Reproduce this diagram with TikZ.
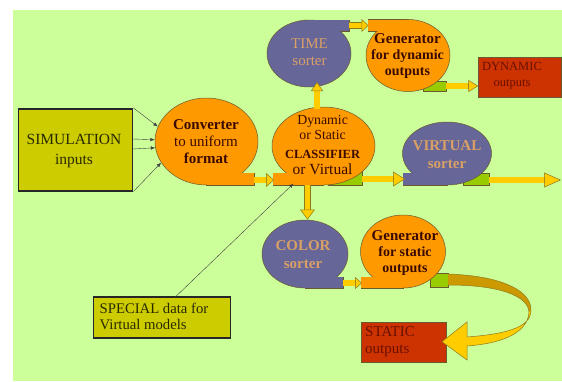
\documentclass[tikz,border=0pt]{standalone}
\usepackage{fontspec}
\setmainfont{Liberation Serif}
\usetikzlibrary{shapes.geometric,arrows.meta,calc}
\definecolor{bg}{HTML}{CCFF99}
\definecolor{org}{HTML}{FF9900}
\definecolor{pur}{HTML}{666699}
\definecolor{olv}{HTML}{CCCC00}
\definecolor{rd}{HTML}{CC3300}
\definecolor{ayel}{HTML}{FFCC00}
\definecolor{aline}{HTML}{8C7A1E}
\definecolor{gtab}{HTML}{99CC00}
\definecolor{gold}{HTML}{CC9900}
\definecolor{dtxt}{HTML}{3A0A00}
\definecolor{ttxt}{HTML}{D9A066}
\definecolor{rtxt}{HTML}{6B1000}
\definecolor{otl}{HTML}{6A5A30}
\newcommand\setfs[2]{\fontsize{#1}{#2}\selectfont}
\newcommand\blob[8]{%
  \draw[line width=1pt, draw=#8, fill=#5] #6 rectangle #7;
  \node[ellipse, draw=#8, line width=0.5pt, fill=#5, minimum width=#3, minimum height=#4, inner sep=0pt] (#1) at #2 {};
  \fill[#5] #6 rectangle #7;
}
\tikzset{
  barrow/.style 2 args={line width=5.5pt, draw=ayel,
    -{Triangle[length=#1, width=#2, fill=ayel, color=aline, line width=0.5pt]},
    preaction={draw=aline, line width=6.5pt, -, shorten >=#1-1.5pt}},
  thinarrow/.style={draw=black!75, line width=0.4pt, -{Latex[length=4.5pt,width=3.5pt]}},
  txt/.style={align=center, inner sep=0pt, text=dtxt, font=\setfs{15}{17}},
  sortxt/.style={align=center, inner sep=0pt, text=ttxt, font=\setfs{15}{17.5}},
  tab/.style={fill=gtab, draw=otl, line width=0.5pt},
  box/.style={draw=black!85, line width=1.6pt, fill=olv, inner sep=0pt},
  outbox/.style={draw=otl, line width=0.5pt, fill=rd, inner sep=0pt}
}
\begin{document}
\begin{tikzpicture}[x=1pt,y=-1pt]
\useasboundingbox (0,0) rectangle (562,381);
\fill[white] (0,0) rectangle (562,381);
\fill[bg] (13,10) rectangle (562,381);

% green tabs (behind shapes)
\draw[tab] (328,172) rectangle (362,185);
\draw[tab] (423,81) rectangle (446,91.5);
\draw[tab] (463,173) rectangle (489,185);
\draw[tab] (430,273) rectangle (448,287);

% shapes
\blob{conv}{(206.5,141.5)}{103pt}{87pt}{org}{(206.5,173)}{(254,185)}{otl}
\blob{class}{(323.5,146)}{103pt}{78pt}{org}{(273,173)}{(323.5,185)}{otl}
\blob{time}{(309,53.5)}{84pt}{67pt}{pur}{(309,20)}{(349,31)}{otl}
\blob{gdyn}{(408,55.5)}{84pt}{72pt}{org}{(368,19.5)}{(408,31)}{otl}
\blob{virt}{(447,153.5)}{89pt}{63pt}{pur}{(403,173)}{(447,185)}{otl}
\blob{color}{(305,254)}{86pt}{68pt}{pur}{(305,277)}{(343,288)}{otl}
\blob{gstat}{(403,251.5)}{85pt}{73pt}{org}{(361,277)}{(403,288)}{otl}

% boxes
\node[box, minimum width=114pt, minimum height=82pt] (sim) at (75.6,149.7) {};
\node[box, minimum width=137pt, minimum height=41pt] (special) at (162,317.5) {};
\node[outbox, minimum width=83pt, minimum height=40pt] (dyn) at (520,77) {};
\node[outbox, minimum width=85pt, minimum height=40pt] (static) at (403.5,342) {};

% texts
\node[txt, text=black!80!olv, font=\setfs{15.5}{20}] (simt) at (74,151) {SIMULATION\\inputs};
\node[txt, text=black!80!olv, align=left, anchor=west, font=\setfs{14.7}{16}] (spect) at (99.5,316.5) {SPECIAL data for\\Virtual models};
\node[txt] (convt) at (206,141.5) {\textbf{Converter}\\to uniform\\\textbf{format}};
\node[txt, font=\setfs{13.8}{15}] (classt) at (322.6,145) {Dynamic\\or Static\\[4.5pt]{\setfs{12.5}{13}\bfseries CLASSIFIER}\\[1pt]{\setfs{15.5}{16}or Virtual}};
\node[sortxt] (timet) at (309.5,52) {TIME\\sorter};
\node[sortxt, font=\setfs{15}{17.5}\bfseries] (virtt) at (447,154.5) {VIRTUAL\\sorter};
\node[sortxt, font=\setfs{15}{17.5}\bfseries] (colort) at (303,254.7) {COLOR\\sorter};
\node[txt, font=\setfs{14}{16}\bfseries] (gdynt) at (407.5,56) {{\setfs{15}{16}Generator}\\for dynamic\\outputs};
\node[txt, font=\setfs{14}{16}\bfseries] (gstatt) at (405,253) {{\setfs{15}{16}Generator}\\for static\\outputs};
\node[txt, text=rtxt, font=\setfs{12.5}{16}] (dynt) at (512,76) {DYNAMIC\\outputs};
\node[txt, text=rtxt, align=left, anchor=west, font=\setfs{15}{17}] (statict) at (365,341.7) {STATIC\\outputs};

% connector end points
\coordinate (convout) at (253.5,180);
\coordinate (classin) at (274,180);
\coordinate (classout) at (361.5,179);
\coordinate (virtin) at (405,179);
\coordinate (virtout) at (488.5,180);
\coordinate (farout) at (561,180);
\coordinate (classtop) at (317,108.5);
\coordinate (timein) at (317,82);
\coordinate (timeout) at (348.5,25.5);
\coordinate (gdynin) at (368.5,25.5);
\coordinate (gdynout) at (445.5,86);
\coordinate (classbot) at (307.5,184.5);
\coordinate (colorin) at (307.5,219.5);
\coordinate (colorout) at (342.5,283);
\coordinate (gstatin) at (362,283);
\coordinate (s2) at (132.6,139);
\coordinate (s3) at (132.6,149);
\coordinate (specfrom) at (175.6,296.7);
\coordinate (classfoot) at (293.5,183.5);

% block arrows
\draw[barrow={8pt}{14pt}] (convout) -- (classin);
\draw[barrow={12pt}{15pt}] (classout) -- (virtin);
\draw[barrow={17pt}{15pt}] (virtout) -- (farout);
\draw[barrow={9pt}{12pt}] (classtop) -- (timein);
\draw[barrow={7pt}{13pt}] (timeout) -- (gdynin);
\draw[barrow={10pt}{12pt}] (gdynout) -- (dyn.west |- gdynout);
\draw[barrow={10pt}{15pt}] (classbot) -- (colorin);
\draw[barrow={7pt}{12pt}] (colorout) -- (gstatin);

% curved ribbon arrow from static generator to STATIC outputs
\fill[gold] (448,274) .. controls (505,276) and (532,292) .. (531,311)
  -- (529,312) .. controls (528,296) and (500,285) .. (448,285) -- cycle;
\fill[ayel] (531,311) .. controls (530,328) and (505,334) .. (467,337)
  -- (467,322) -- (442,341.7) -- (467,360) -- (467,346)
  .. controls (508,343) and (528,330) .. (529,312) -- cycle;
\draw[aline, line width=0.5pt] (448,274) .. controls (505,276) and (532,292) .. (531,311)
  .. controls (530,328) and (505,334) .. (467,337)
  -- (467,322) -- (442,341.7) -- (467,360) -- (467,346)
  .. controls (508,343) and (528,330) .. (529,312)
  .. controls (528,296) and (500,285) .. (448,285);

% thin arrows
\draw[thinarrow] (sim.north east) -- (conv.163);
\draw[thinarrow] (s2) -- (conv.178);
\draw[thinarrow] (s3) -- (conv.187);
\draw[thinarrow] (sim.south east) -- (conv.205);
\draw[thinarrow] (specfrom) -- (classfoot);
\end{tikzpicture}
\end{document}
